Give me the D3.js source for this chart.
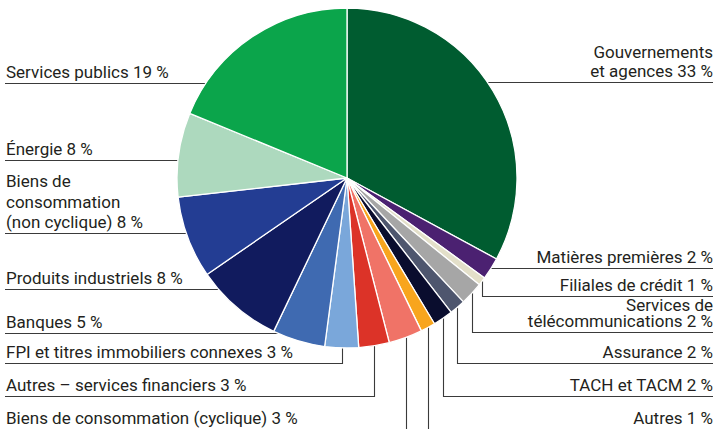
<!DOCTYPE html>
<html>
<head>
<meta charset="utf-8">
<script src="https://cdn.jsdelivr.net/npm/d3@7"></script>
<style>
  html, body { margin: 0; padding: 0; background: #fff; }
  svg { display: block; }
</style>
</head>
<body>
<svg id="chart" width="717" height="429"></svg>
<script>
// ---- Data (slice shares; labels show rounded %) ----
const categories = [
  "Gouvernements\net agences",
  "Matières premières",
  "Filiales de crédit",
  "Services de\ntélécommunications",
  "Assurance",
  "TACH et TACM",
  "Autres",
  "Biens de consommation (cyclique)",
  "Autres – services financiers",
  "FPI et titres immobiliers connexes",
  "Banques",
  "Produits industriels",
  "Biens de\nconsommation\n(non cyclique)",
  "Énergie",
  "Services publics"
];
const values = [32.9, 2.1, 0.8, 2.2, 1.5, 1.9, 1.4, 3.2, 2.9, 3.2, 5.0, 8.3, 7.8, 8.0, 18.8];
const colors = [
  "#005c30", "#4b2171", "#e3dfc9", "#a6a6a6", "#4e566e", "#0a0d2e", "#f8a51d",
  "#f07367", "#dc3328", "#7aa7da", "#3f6ab1", "#111b5e", "#233d93", "#add9be", "#0ba54b"
];

// ---- Layout (annotation placement) ----
const labelSide   = ["right","right","right","right","right","right","right","left","left","left","left","left","left","left","left"];
const leaderType  = ["h","h","v","v","v","v","v","v","v","v","h","h","h","h","h"];
const underlineY  = [82.5, 268.5, 296.5, 332.5, 363.5, 396.5, 429.5, 429.5, 396.5, 363.5, 333.5, 289.5, 233.5, 160.5, 83.5];
const lineHeights = [19, 0, 0, 16, 0, 0, 0, 0, 0, 0, 0, 0, 20.5, 0, 0];

const W = 717, H = 429;
const cx = 347, cy = 178, r = 170;
const leftX = 5, rightX = 713;

const svg = d3.select("#chart");
const g = svg.append("g");

const pie = d3.pie().sort(null).value(d => d).startAngle(0).endAngle(2 * Math.PI);
const arcs = pie(values);
const arc = d3.arc().innerRadius(0).outerRadius(r);

// Leader lines (drawn under the pie)
const leaders = g.append("g").attr("fill", "none").attr("stroke", "#3a3a3a").attr("stroke-width", 1.1);
arcs.forEach((a, i) => {
  const mid = (a.startAngle + a.endAngle) / 2;
  const uy = underlineY[i];
  const endX = labelSide[i] === "right" ? rightX : leftX;
  let path = d3.path();
  if (leaderType[i] === "h") {
    const dx = Math.sqrt(Math.max(0, r * r - (uy - cy) * (uy - cy)));
    const sx = labelSide[i] === "right" ? cx + dx - 2 : cx - dx + 2;
    path.moveTo(sx, uy);
    path.lineTo(endX, uy);
  } else {
    const px = Math.round(cx + r * Math.sin(mid)) + 0.5;
    const py = cy - (r - 2) * Math.cos(mid);
    path.moveTo(px, py);
    path.lineTo(px, uy);
    path.lineTo(endX, uy);
  }
  leaders.append("path").attr("d", path.toString());
});

// Pie slices
g.append("g")
  .attr("transform", `translate(${cx},${cy})`)
  .selectAll("path")
  .data(arcs)
  .join("path")
  .attr("d", arc)
  .attr("fill", (d, i) => colors[i])
  .attr("stroke", "#fff")
  .attr("stroke-width", 1.3)
  .attr("stroke-linejoin", "round");

// Labels
const labels = g.append("g")
  .attr("font-family", "Roboto, 'Liberation Sans', sans-serif")
  .attr("font-size", 17)
  .attr("fill", "#231f20");
arcs.forEach((a, i) => {
  const lines = categories[i].split("\n");
  lines[lines.length - 1] += " " + Math.round(values[i]) + " %";
  const right = labelSide[i] === "right";
  const baseY = underlineY[i] - 5.5;
  const t = labels.append("text")
    .attr("text-anchor", right ? "end" : "start");
  lines.forEach((ln, k) => {
    t.append("tspan")
      .attr("x", right ? rightX : leftX + 1)
      .attr("y", baseY - (lines.length - 1 - k) * lineHeights[i])
      .text(ln);
  });
});
</script>
</body>
</html>
